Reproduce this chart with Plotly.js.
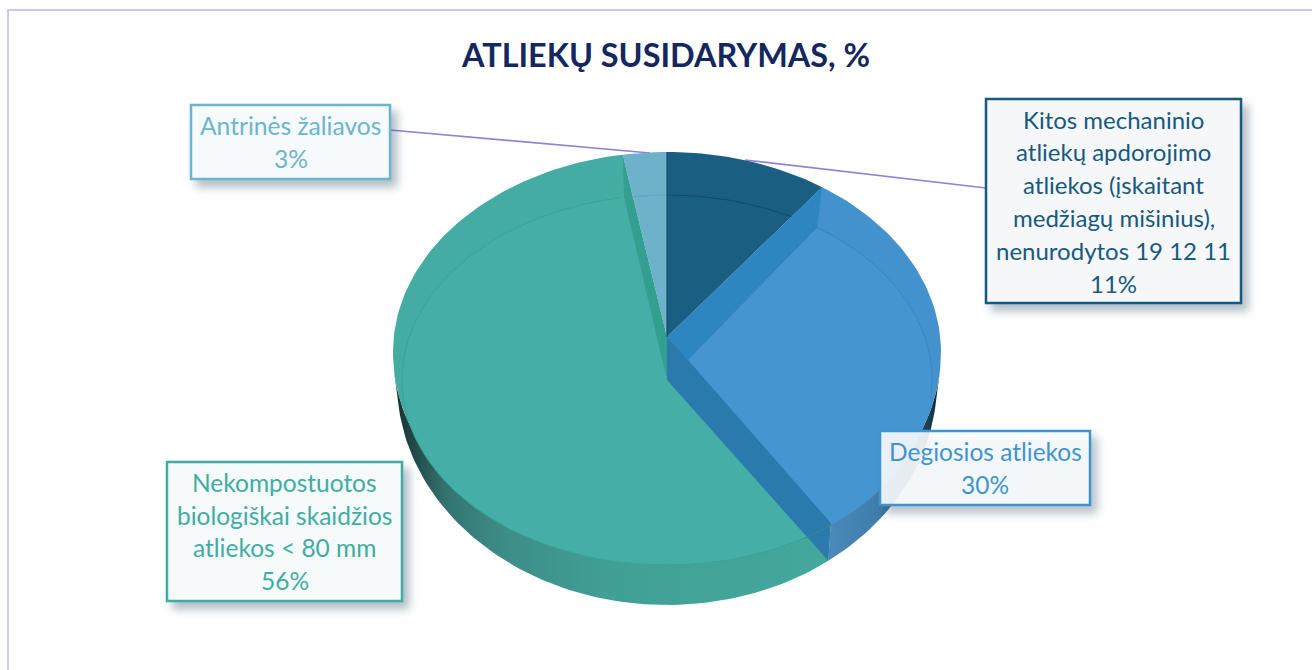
<!DOCTYPE html>
<html><head><meta charset="utf-8">
<script src="https://cdn.plot.ly/plotly-3.0.1.min.js"></script>
<style>html,body{margin:0;padding:0;background:#fff}#chart{width:1312px;height:670px}</style>
</head><body><div id="chart"></div>
<script>
// ---- data ----
const chartTitle = 'ATLIEKŲ SUSIDARYMAS, %';
const shares = [11, 30, 56, 3];
const categoryLines = [
  ['Kitos mechaninio','atliekų apdorojimo','atliekos (įskaitant','medžiagų mišinius),','nenurodytos 19 12 11'],
  ['Degiosios atliekos'],
  ['Nekompostuotos','biologiškai skaidžios','atliekos < 80 mm'],
  ['Antrinės žaliavos']
];
const faceColors  = ['#1a5e82', '#4392ce', '#44aca3', '#6db1ca'];
const innerColors = ['#1a5e82', '#4595d1', '#45aea6', '#6db1ca'];
const labelColors = ['#175a80', '#3f94d0', '#3fada3', '#6bb5cf'];
const labelFills  = ['#f5f7f9', 'rgba(251,253,254,0.9)', '#f6fafb', '#f6fafc'];
const labelBoxes  = [[986,99,1241,303],[880,431,1090,505],[167,462,402,601],[191,105,390,179]];
const labelFont   = [24, 24.5, 24.5, 24.6];
const lineStep = 32.8;

// ---- projection of the tilted disc onto the plot's pixel-like axes ----
const cx = 667, cy = 352, rx = 274, ryUp = 200, ryLow = 213;
const wallCy = 382, wallRx = 270, wallRy = 223;
const inCy = 380, inRx = 265, inRy = 185;
const apex = [667, 337], apexLow = [667, 380], apexBlue = [688, 360];
const rad = d => d * Math.PI / 180;
const persp = d => d - 8 * Math.sin(rad(d));           // perspective shift of slice angles
const cum = [0]; shares.forEach(v => cum.push(cum[cum.length-1] + v));
const total = cum[cum.length-1];
const edge = cum.map(c => persp(c / total * 360));
const rim  = t => { const c = Math.cos(rad(t)); return [cx + rx*Math.sin(rad(t)), cy - (c >= 0 ? ryUp : ryLow)*c]; };
const wall = t => [cx + wallRx*Math.sin(rad(t)), wallCy - wallRy*Math.cos(rad(t))];
const inner= t => [cx + inRx*Math.sin(rad(t)), inCy - inRy*Math.cos(rad(t))];
function arc(fn, a, b){ const n = Math.max(2, Math.ceil(Math.abs(b-a)/1.5)), o=[]; for(let i=0;i<=n;i++) o.push(fn(a+(b-a)*i/n)); return o; }
function poly(points, color, extra){
  const xs = points.map(p=>p[0]), ys = points.map(p=>p[1]);
  xs.push(xs[0]); ys.push(ys[0]);
  return Object.assign({type:'scatter',mode:'lines',x:xs,y:ys,fill:'toself',fillcolor:color,line:{width:0,color:color},hoverinfo:'skip',showlegend:false}, extra||{});
}
function stroke(points, color, w){
  return {type:'scatter',mode:'lines',x:points.map(p=>p[0]),y:points.map(p=>p[1]),line:{width:w||1,color:color},hoverinfo:'skip',showlegend:false};
}
const [e0,e1,e2,e3] = edge;
const traces = [];
// leader lines behind the disc
traces.push(stroke([[390,130],[650,153]], '#9081d9', 1.7));
traces.push(stroke([[986,188],[745,160]], '#9081d9', 1.7));
// side walls
const wallRight = arc(wall, e2, 95).concat(arc(rim, 95, e2));
traces.push(poly(wallRight, '#3f7dab', {fillgradient:{type:'horizontal',start:825,stop:941,
  colorscale:[[0,'#4b8abb'],[0.45,'#3f7dab'],[0.8,'#234f6d'],[1,'#0f2735']]}}));
const wallLeft = arc(wall, e2, 265).concat(arc(rim, 265, e2));
traces.push(poly(wallLeft, '#42a298', {fillgradient:{type:'horizontal',start:393,stop:830,
  colorscale:[[0,'#14302f'],[0.03,'#1d3f3e'],[0.12,'#33736f'],[0.25,'#3d8d87'],[0.5,'#41a096'],[1,'#44a89c']]}}));
// slice faces
traces.push(poly([apex].concat(arc(rim, e0, e1)), faceColors[0]));
traces.push(poly([apex].concat(arc(rim, e1, e2)), faceColors[1]));
traces.push(poly([apexLow].concat(arc(rim, e2, e3)), faceColors[2]));
traces.push(poly([apex].concat(arc(rim, e3, 360)), faceColors[3]));
traces.push(poly([apex].concat(arc(inner, e1, e2)), innerColors[1]));
traces.push(poly([apexLow].concat(arc(inner, e2, e3)), innerColors[2]));
// exposed cut faces
traces.push(poly([apex, rim(e1), inner(e1), apexBlue], '#2e86c1'));
traces.push(poly([apex, apexBlue, rim(e2), wall(e2), apexLow], '#2b7aad'));
traces.push(poly([rim(e3), apex, apexLow, inner(e3)], '#339f91'));
// rim line just inside each face
traces.push(stroke(arc(inner, 0, 28), '#0f4a6b', 1));
traces.push(stroke(arc(inner, -7.6, 0), '#5fa5bf', 1));
traces.push(stroke(arc(inner, e1, 96), '#3a86bf', 1));
traces.push(stroke(arc(inner, 149, 349.8), '#3ba297', 1));
traces.push(stroke(arc(inner, 141.5, 149), '#3c8c70', 1));
traces.push(stroke([[cx,cy-ryUp],apex], '#0d4463', 1));

// label boxes
const shapes = [{type:'rect',xref:'x',yref:'y',x0:8,y0:10,x1:1330,y1:690,line:{color:'#cfc9ef',width:2},fillcolor:'rgba(0,0,0,0)',layer:'below'}];
const annotations = [];
labelBoxes.forEach((b,i)=>{
  shapes.push({type:'rect',xref:'x',yref:'y',x0:b[0],y0:b[1],x1:b[2],y1:b[3],layer:'above',
    line:{color:labelColors[i],width:2.5},fillcolor:labelFills[i]});
  const lines = categoryLines[i].concat([shares[i]+'%']);
  const midY = (b[1]+b[3])/2, midX=(b[0]+b[2])/2;
  lines.forEach((t,k)=>{
    annotations.push({xref:'x',yref:'y',x:midX,y:midY+(k-(lines.length-1)/2)*lineStep,text:t.replace('<','&lt;'),showarrow:false,
      xanchor:'center',yanchor:'middle',font:{family:'Lato, sans-serif',size:labelFont[i],color:labelColors[i]}});
  });
});
const layout = {
  width:1312,height:670,margin:{l:0,r:0,t:0,b:0,pad:0},showlegend:false,
  paper_bgcolor:'#ffffff',plot_bgcolor:'#ffffff',
  title:{text:'<b>'+chartTitle+'</b>',x:666/1312,xanchor:'center',y:1-56/670,yanchor:'middle',font:{family:'Lato, sans-serif',size:32.4,color:'#14275f'}},
  xaxis:{range:[0,1312],visible:false,fixedrange:true},
  yaxis:{range:[670,0],visible:false,fixedrange:true},
  shapes,annotations
};
Plotly.newPlot('chart',traces,layout,{displayModeBar:false,staticPlot:true}).then(()=>{
  const paths = document.querySelectorAll('.shapelayer path');
  paths.forEach(p=>{
    const f = p.style.fill || '';
    if(f && f.indexOf('rgba(0, 0, 0, 0)')<0 && f!=='none' && p.style.strokeWidth!=='2px') p.style.filter='drop-shadow(6px 7px 5px rgba(60,90,110,0.4))';
  });
});
</script></body></html>
